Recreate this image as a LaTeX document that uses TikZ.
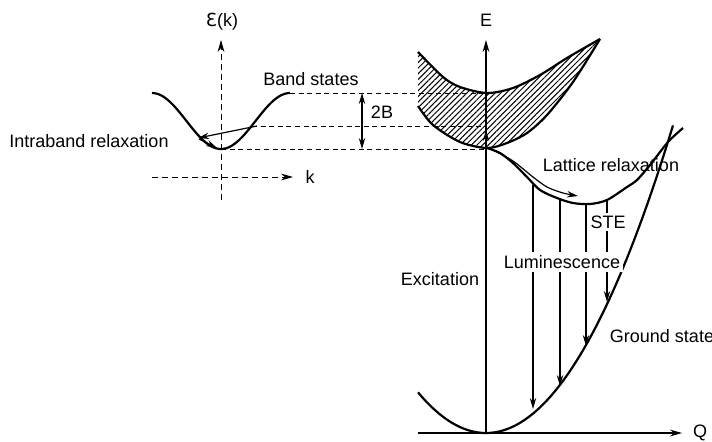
\documentclass[tikz,border=0pt]{standalone}
\usepackage{fontspec}
\setmainfont{Liberation Sans}
\newfontfamily\djv{DejaVu Sans}
\usetikzlibrary{arrows.meta,patterns.meta}

\tikzset{
  curve/.style={line width=1.1pt},
  axis/.style={line width=0.55pt,-{Stealth[length=6pt,width=3.4pt]}},
  guide/.style={line width=0.5pt,dash pattern=on 2.5pt off 1.8pt},
  tip/.style={line width=0.6pt,-{Stealth[length=5.5pt,width=3.2pt]}},
  lbl/.style={font=\fontsize{9}{11}\selectfont,inner sep=1pt},
  cover/.style={lbl,fill=white,inner sep=1.5pt},
}

\begin{document}
\begin{tikzpicture}[x=0.5pt,y=-0.5pt]
\useasboundingbox (0,0) rectangle (712,441);

% left panel: band E(k)
\coordinate (ktop) at (221,40);
\coordinate (kbot) at (221,200);
\coordinate (kl) at (152,177);
\coordinate (kr) at (293,177);
\draw[axis,densely dashed,line width=0.4pt] (kbot) -- (ktop);
\draw[axis,densely dashed,line width=0.4pt] (kl) -- (kr);
\node[lbl] (epsk) at (222,22) {{\djv Ɛ}(k)};
\node[lbl] (klab) at (310,177) {k};
\draw[curve,domain=152:290,samples=61,smooth,variable=\x]
    plot ({\x},{121+28*cos(180*(\x-221)/69)});

% right panel: axes
\coordinate (orig) at (486,433);
\coordinate (etop) at (486,40);
\coordinate (qleft) at (418,433);
\coordinate (qright) at (682,433);
\draw[axis] (orig) -- (etop);
\draw[axis] (qleft) -- (qright);
\node[lbl] (elab) at (486,20) {E};
\node[lbl] (qlab) at (700,433) {Q};

% levels carried across
\coordinate (btop) at (290,93);   \coordinate (rtop) at (486,93);
\coordinate (bmid) at (252,126);  \coordinate (rmid) at (486,126);
\coordinate (bbot) at (221,149);  \coordinate (rbot) at (486,149);
\draw[guide] (btop) -- (rtop);
\draw[guide] (bmid) -- (rmid);
\draw[guide] (bbot) -- (rbot);
\coordinate (wtop) at (362,93);
\coordinate (wbot) at (362,149);
\draw[line width=0.6pt,{Stealth[length=5.5pt,width=3.2pt]}-{Stealth[length=5.5pt,width=3.2pt]}] (wtop) -- (wbot);
\node[lbl] (wlab) at (382,112) {2B};
\node[lbl] (bandlab) at (311,79) {Band states};

% intraband relaxation
\coordinate (ir1) at (257,126);
\coordinate (ir2) at (198,138);
\coordinate (ir3) at (199,139);
\coordinate (ir4) at (217,148);
\draw[tip] (ir1) -- (ir2);
\draw[tip] (ir3) -- (ir4);
\node[lbl] (intralab) at (89,141) {Intraband relaxation};

% free exciton band
\fill[pattern={Lines[angle=45,distance=2pt,line width=0.5pt]}]
    plot[smooth] coordinates {(418,52) (443,77) (460,87) (487,93) (513,88) (540,75) (567,58) (600,39)}
    -- plot[smooth] coordinates {(600,39) (573,82) (547,115) (527,133) (507,143) (487,148) (460,142) (433,125) (418,106)}
    -- cycle;
\draw[curve] plot[smooth] coordinates {(418,52) (443,77) (460,87) (487,93) (513,88) (540,75) (567,58) (600,39)};
\draw[curve] plot[smooth] coordinates {(418,106) (433,125) (460,142) (487,148) (507,143) (527,133) (547,115) (573,82) (600,39)};

% self-trapped state and ground state
\draw[curve] plot[smooth] coordinates {(487,148) (500,153) (513,163) (527,177) (540,190) (557,198) (573,203) (590,204) (607,200) (627,187) (637,180) (650,165) (668,142) (683,128)};
\draw[curve,domain=418:673,samples=61,smooth,variable=\x]
    plot ({\x},{433-(0.0938*(\x-486))^2});

% lattice relaxation
\draw[tip] plot[smooth] coordinates {(493,150) (513,161) (533,177) (547,187) (563,193) (578,196)};
\node[lbl] (latlab) at (611,165) {Lattice relaxation};

% excitation
\coordinate (exc) at (486,130);
\draw[tip] (orig) -- (exc);
\node[lbl] (exclab) at (440,279) {Excitation};

% luminescence
\foreach \x/\ya/\yb [count=\i] in {533/185/409, 560/200/386, 586/205/346, 607/200/302} {
    \coordinate (lu\i) at (\x,\ya);
    \coordinate (gr\i) at (\x,\yb);
    \draw[tip] (lu\i) -- (gr\i);
}
\node[cover] (stelab) at (608,222) {STE};
\node[cover] (lumlab) at (562,262) {Luminescence};
\node[lbl] (gndlab) at (662,336) {Ground state};
\end{tikzpicture}
\end{document}
